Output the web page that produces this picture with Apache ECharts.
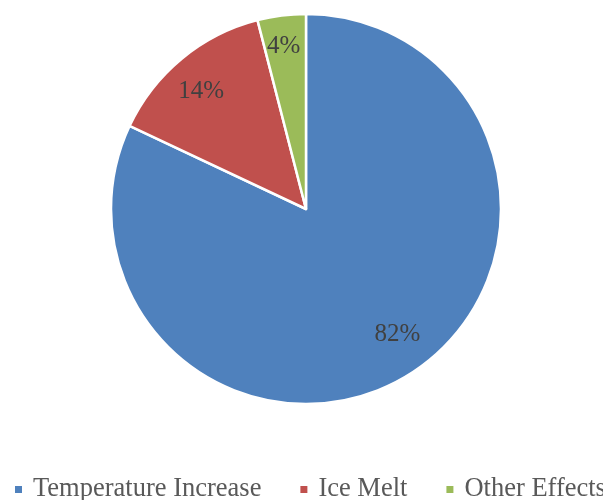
<!DOCTYPE html>
<html>
<head>
<meta charset="utf-8">
<script src="https://cdn.jsdelivr.net/npm/echarts@6/dist/echarts.min.js"></script>
<style>
  html, body { margin: 0; padding: 0; background: #fff; }
  #chart { width: 603px; height: 500px; }
</style>
</head>
<body>
<div id="chart"></div>
<script>
// Share of each contributing effect (percent)
const categories = ['Temperature Increase', 'Ice Melt', 'Other Effects'];
const shares = [82, 14, 4];
const colors = ['#4F81BD', '#C0504D', '#9BBB59'];

// Fine placement of each percentage label
const labelOffsets = [[4, -12], [-1, 8], [-2, -1]];

const serif = "'Liberation Serif', 'Times New Roman', serif";

const sliceData = categories.map((name, i) => ({
  name: name,
  value: shares[i],
  itemStyle: { color: colors[i] }
}));

// Invisible ring used only to place the percentage labels further out
const labelData = categories.map((name, i) => ({
  name: name,
  value: shares[i],
  label: { offset: labelOffsets[i] }
}));

const chart = echarts.init(document.getElementById('chart'));
chart.setOption({
  animation: false,
  legend: {
    data: categories,
    left: 13,
    top: 476,
    width: 700,
    padding: 0,
    icon: 'rect',
    itemWidth: 9,
    itemHeight: 9,
    itemGap: 37,
    textStyle: {
      fontFamily: serif,
      fontSize: 26.5,
      color: '#595959',
      padding: [0, 0, 0, 5]
    }
  },
  series: [
    {
      type: 'pie',
      center: [306, 209],
      radius: [0, 195],
      startAngle: 90,
      clockwise: true,
      silent: true,
      itemStyle: { borderColor: '#ffffff', borderWidth: 2.5 },
      label: { show: false },
      labelLine: { show: false },
      data: sliceData
    },
    {
      type: 'pie',
      center: [306, 209],
      radius: [125, 195],
      startAngle: 90,
      clockwise: true,
      silent: true,
      itemStyle: { color: 'rgba(0,0,0,0)', borderWidth: 0 },
      label: {
        show: true,
        position: 'inside',
        formatter: '{c}%',
        fontFamily: serif,
        fontSize: 25,
        color: '#404040'
      },
      labelLine: { show: false },
      emphasis: { disabled: true },
      data: labelData
    }
  ]
});
</script>
</body>
</html>
